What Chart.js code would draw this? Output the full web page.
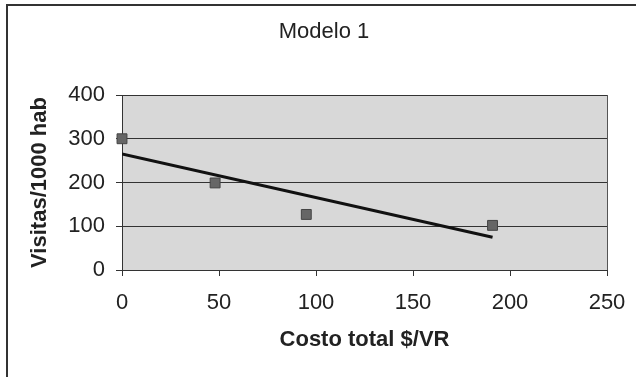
<!DOCTYPE html>
<html lang="es">

<head>
    <meta charset="UTF-8">
    <title>Modelo 1</title>
    <script src="https://cdn.jsdelivr.net/npm/chart.js"></script>
    <style>
        html, body {
            margin: 0;
            padding: 0;
            background: #fff;
        }

        #wrap {
            width: 636px;
            height: 377px;
        }
    </style>
</head>

<body>
    <div id="wrap"><canvas id="myChart" width="636" height="377"></canvas></div>

    <script>
        // datos
        const costoTotal = [0, 48, 95, 191];
        const visitas = [300, 199, 127, 102];
        // linea de tendencia (extremos)
        const tendenciaX = [0, 191];
        const tendenciaY = [265, 75];
        const yTicks = [0, 100, 200, 300, 400];
        const xTicks = [0, 50, 100, 150, 200, 250];
        const titulo = 'Modelo 1';

        const puntos = costoTotal.map((x, i) => ({ x: x, y: visitas[i] }));
        const tendencia = tendenciaX.map((x, i) => ({ x: x, y: tendenciaY[i] }));

        // fondo gris del area, marco exterior y titulo
        const marco = {
            id: 'marco',
            beforeDraw(chart) {
                const { ctx, chartArea: a } = chart;
                ctx.save();
                ctx.fillStyle = '#d8d8d8';
                ctx.fillRect(a.left, a.top, a.right - a.left, a.bottom - a.top);
                ctx.strokeStyle = '#555';
                ctx.lineWidth = 1;
                ctx.beginPath();
                ctx.moveTo(a.right + 0.5, a.top);
                ctx.lineTo(a.right + 0.5, a.bottom);
                ctx.stroke();
                ctx.strokeStyle = '#333';
                ctx.lineWidth = 2;
                ctx.beginPath();
                ctx.moveTo(7, 377);
                ctx.lineTo(7, 5);
                ctx.lineTo(636, 5);
                ctx.stroke();
                ctx.restore();
            },
            afterDraw(chart) {
                const ctx = chart.ctx;
                ctx.save();
                ctx.fillStyle = '#222';
                ctx.font = '22px "Liberation Sans"';
                ctx.textAlign = 'center';
                ctx.textBaseline = 'middle';
                ctx.fillText(titulo, 324, 32);
                ctx.restore();
            }
        };

        const ctx = document.getElementById('myChart').getContext('2d');
        const myChart = new Chart(ctx, {
            type: 'scatter',
            data: {
                datasets: [{
                    label: 'Visitas',
                    data: puntos,
                    clip: false,
                    pointStyle: 'rect',
                    pointRadius: 7,
                    backgroundColor: '#666',
                    borderColor: '#444',
                    borderWidth: 1
                }, {
                    label: 'Tendencia',
                    data: tendencia,
                    showLine: true,
                    pointRadius: 0,
                    borderColor: '#111',
                    borderWidth: 3
                }]
            },
            options: {
                responsive: false,
                animation: false,
                layout: {
                    padding: { left: 10, right: 29, top: 95, bottom: 10 }
                },
                plugins: {
                    legend: { display: false },
                    tooltip: { enabled: false },
                    title: { display: false }
                },
                scales: {
                    x: {
                        type: 'linear',
                        min: 0,
                        max: 250,
                        afterBuildTicks: s => { s.ticks = xTicks.map(v => ({ value: v })); },
                        ticks: {
                            color: '#222',
                            padding: 14,
                            font: { family: 'Liberation Sans', size: 22 }
                        },
                        grid: {
                            drawOnChartArea: false,
                            drawTicks: true,
                            tickLength: 6,
                            color: '#333'
                        },
                        border: { color: '#333', width: 1 },
                        title: {
                            display: true,
                            text: 'Costo total $/VR',
                            color: '#222',
                            font: { family: 'Liberation Sans', size: 22, weight: 'bold' },
                            padding: { top: 0, bottom: 14 }
                        },
                        afterFit: s => {
                            s.height = 97;
                            s.paddingLeft = 0;
                            s.paddingRight = 0;
                        }
                    },
                    y: {
                        min: 0,
                        max: 400,
                        afterBuildTicks: s => { s.ticks = yTicks.map(v => ({ value: v })); },
                        ticks: {
                            color: '#222',
                            padding: 11,
                            font: { family: 'Liberation Sans', size: 22 }
                        },
                        grid: {
                            color: '#333',
                            lineWidth: 1,
                            tickLength: 6
                        },
                        border: { color: '#333', width: 1 },
                        title: {
                            display: true,
                            text: 'Visitas/1000 hab',
                            color: '#222',
                            font: { family: 'Liberation Sans', size: 22, weight: 'bold' },
                            padding: { top: 17, bottom: 0 }
                        },
                        afterFit: s => { s.width = 112; }
                    }
                }
            },
            plugins: [marco]
        });
    </script>
</body>

</html>
